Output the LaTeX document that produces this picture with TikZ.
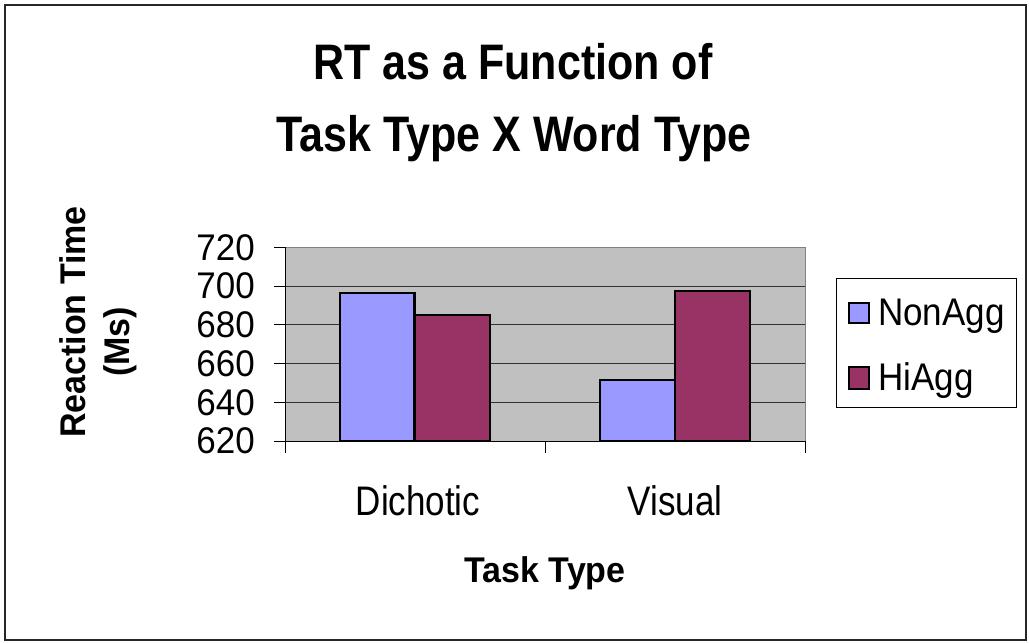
\documentclass[tikz,border=0pt]{standalone}
\usepackage{fontspec}
\setmainfont{Liberation Sans}
\definecolor{nonaggc}{RGB}{153,153,255}
\definecolor{hiaggc}{RGB}{153,51,102}
\definecolor{plotgray}{RGB}{192,192,192}
\definecolor{gridc}{RGB}{50,50,50}
\newcommand{\vstretch}[2]{\scalebox{1}[#1]{#2}}
\begin{document}
\begin{tikzpicture}[x=1pt,y=-1pt,
  bar/.style={draw=black,line width=2.2pt},
  nonagg/.style={bar,fill=nonaggc},
  hiagg/.style={bar,fill=hiaggc},
  gridline/.style={draw=gridc,line width=1pt},
  axisline/.style={draw=black,line width=1pt},
  ticklab/.style={anchor=east,inner sep=0pt,font=\fontsize{35}{42}\selectfont},
  catlab/.style={anchor=base,inner sep=0pt,font=\fontsize{35}{42}\selectfont},
  axtitle/.style={anchor=base,inner sep=0pt,font=\bfseries\fontsize{34}{40}\selectfont},
  titlelab/.style={anchor=base,inner sep=0pt,font=\bfseries\fontsize{43}{50}\selectfont},
  leglab/.style={anchor=base west,inner sep=0pt,font=\fontsize{35}{42}\selectfont},
  swatch/.style={draw=black,line width=2pt}]
\useasboundingbox (0,0) rectangle (1029,643);
% outer frame
\draw[line width=1.8pt,draw=black!85] (5,5) rectangle (1026,640);
% title
\node[titlelab] (t1) at (513,79) {\vstretch{1.16}{RT as a Function of}};
\node[titlelab] (t2) at (514,151) {\vstretch{1.16}{Task Type X Word Type}};
% plot area
\fill[plotgray] (285,247.3) rectangle (805,441);
\draw[draw=black!50,line width=1pt] (285,247.3) -- (805,247.3) -- (805,441);
% gridlines and y tick labels
\foreach \v in {640,660,680,700} {
  \draw[gridline] (285,{441-(\v-620)*1.937}) -- (805,{441-(\v-620)*1.937});
}
\foreach \v in {620,640,...,720} {
  \draw[axisline] (274,{441-(\v-620)*1.937}) -- (285,{441-(\v-620)*1.937});
  \node[ticklab] (y\v) at (255,{441-(\v-620)*1.937}) {\vstretch{1.06}{\v}};
}
% bars
\draw[nonagg] (340,441) rectangle (414.5,{441-(696.3-620)*1.937});
\draw[hiagg] (414.5,441) rectangle (490,{441-(685-620)*1.937});
\draw[nonagg] (600,441) rectangle (675,{441-(651.5-620)*1.937});
\draw[hiagg] (675,441) rectangle (750,{441-(697.4-620)*1.937});
% axes
\draw[axisline] (285,247.3) -- (285,453);
\draw[axisline] (285,441) -- (805,441);
\foreach \x in {545,805} \draw[axisline] (\x,441) -- (\x,453);
% category labels
\node[catlab] (cd) at (418,515) {\vstretch{1.18}{Dichotic}};
\node[catlab] (cv) at (675,515) {\vstretch{1.18}{Visual}};
\node[axtitle] (xt) at (545,582) {\vstretch{1.05}{Task Type}};
% y axis title
\node[axtitle,rotate=90] (yt1) at (85,322) {\vstretch{1.05}{Reaction Time}};
\node[axtitle,rotate=90] (yt2) at (129,342) {\vstretch{1.05}{(Ms)}};
% legend
\draw[draw=black,line width=1pt,fill=white] (836,278.3) rectangle (1016,407.3);
\draw[swatch,fill=nonaggc] (849,302.7) rectangle (869,323.3);
\draw[swatch,fill=hiaggc] (849,367) rectangle (869,388.7);
\node[leglab] (l1) at (878,325) {\vstretch{1.1}{NonAgg}};
\node[leglab] (l2) at (878,390) {\vstretch{1.1}{HiAgg}};
\end{tikzpicture}
\end{document}
